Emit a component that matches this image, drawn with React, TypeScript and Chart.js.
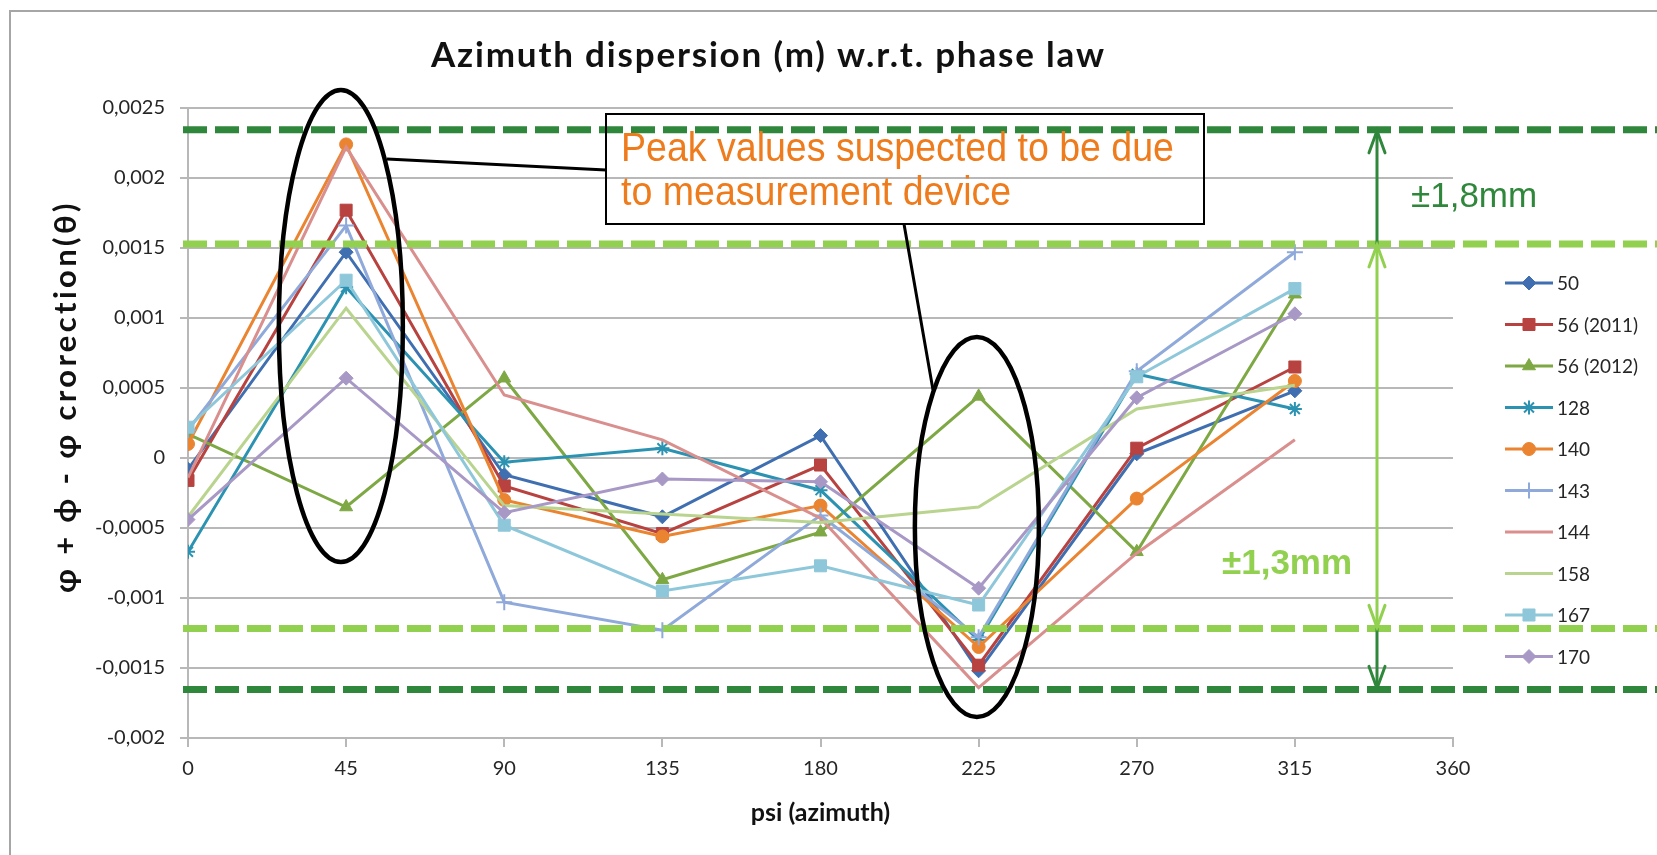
import React, { useEffect, useRef } from 'react';
import { Chart, registerables } from 'chart.js';
import { drawPoint } from 'chart.js/helpers';

Chart.register(...registerables);

// ---------- data ----------
const azimuths = [0, 45, 90, 135, 180, 225, 270, 315];
const seriesNames = ['50', '56 (2011)', '56 (2012)', '128', '140', '143', '144', '158', '167', '170'];
const s50 = [-0.00008, 0.00147, -0.00012, -0.00042, 0.00016, -0.00152, 0.00003, 0.00048];
const s56_2011 = [-0.00016, 0.00177, -0.0002, -0.00054, -0.00005, -0.00148, 0.00007, 0.00065];
const s56_2012 = [0.00017, -0.00035, 0.00057, -0.00087, -0.00053, 0.00044, -0.00067, 0.00117];
const s128 = [-0.00067, 0.00122, -0.00003, 0.00007, -0.00023, -0.0013, 0.0006, 0.00035];
const s140 = [0.0001, 0.00224, -0.0003, -0.00056, -0.00034, -0.00135, -0.00029, 0.00055];
const s143 = [0.0002, 0.00166, -0.00103, -0.00123, -0.00041, -0.00128, 0.00062, 0.00147];
const s144 = [-0.00014, 0.00222, 0.00045, 0.00013, -0.00043, -0.00164, -0.00068, 0.00013];
const s158 = [-0.00042, 0.00107, -0.00034, -0.0004, -0.00046, -0.00035, 0.00035, 0.00052];
const s167 = [0.00022, 0.00127, -0.00048, -0.00095, -0.00077, -0.00105, 0.00058, 0.00121];
const s170 = [-0.00044, 0.00057, -0.00039, -0.00015, -0.00017, -0.00093, 0.00043, 0.00103];
const seriesValues = [s50, s56_2011, s56_2012, s128, s140, s143, s144, s158, s167, s170];

const yTickMin = -0.002;
const yTickMax = 0.0025;
const yTickStep = 0.0005;
const xTickMin = 0;
const xTickMax = 360;
const xTickStep = 45;

// tolerance bands (value units): [upper, lower]
const outerBand = [0.002344, -0.001653]; // ±1,8mm
const innerBand = [0.001529, -0.001217]; // ±1,3mm

// highlight ellipses: [centre azimuth, centre value]
const peakEllipses = [
  [43.5, 0.000943],
  [224.5, -0.000493],
];

const TITLE = 'Azimuth dispersion (m) w.r.t. phase law';
const Y_TITLE = 'φ + ϕ - φ crorection(θ)';
const X_TITLE = 'psi (azimuth)';
const NOTE_LINES = ['Peak values suspected to be due', 'to measurement device'];
const OUTER_LABEL = '±1,8mm';
const INNER_LABEL = '±1,3mm';

// ---------- style ----------
const FONT = 'Lato, "Open Sans", "DejaVu Sans", sans-serif';
const ARIAL = '"Liberation Sans", Arial, sans-serif';
const NARROW = '"Liberation Sans Narrow", "Liberation Sans", Arial, sans-serif';
const seriesColors = ['#3F6FB0', '#B8423F', '#7EA844', '#2B93B1', '#EB8431', '#8EA9DA', '#D98F8D', '#B9D48E', '#8EC7DA', '#A898C6'];
const seriesMarkers: (string | false)[] = ['rectRot', 'rect', 'triangle', 'star', 'circle', 'cross', false, false, 'rect', 'rectRot'];
const markerRadius = [7, 8.5, 7.5, 7, 6.5, 8, 0, 0, 8.5, 7];
const DARK_GREEN = '#2F873B';
const LIGHT_GREEN = '#92D050';
const GRID = '#B8B8B8';
const ORANGE = '#EE7B1C';
const TEXT = '#262626';

function fmt(v: number) {
  const r = Math.round(v * 1e5) / 1e5;
  return String(r).replace('.', ',');
}

function arrowHead(ctx: CanvasRenderingContext2D, x: number, tipY: number, dir: number) {
  ctx.beginPath();
  ctx.moveTo(x - 8, tipY - dir * 22);
  ctx.lineTo(x, tipY);
  ctx.lineTo(x + 8, tipY - dir * 22);
  ctx.stroke();
}

const overlayPlugin = {
  id: 'overlay',
  beforeDraw(chart: any) {
    const ctx = chart.ctx as CanvasRenderingContext2D;
    ctx.save();
    ctx.fillStyle = '#ffffff';
    ctx.fillRect(0, 0, chart.width, chart.height);
    ctx.strokeStyle = '#A6A6A6';
    ctx.lineWidth = 2;
    ctx.beginPath();
    ctx.moveTo(10, chart.height);
    ctx.lineTo(10, 11);
    ctx.lineTo(chart.width, 11);
    ctx.stroke();
    ctx.restore();
  },
  afterDraw(chart: any) {
    const ctx = chart.ctx as CanvasRenderingContext2D;
    const xs = chart.scales.x;
    const ys = chart.scales.y;
    const W = chart.width;

    // title
    ctx.save();
    ctx.fillStyle = '#111';
    ctx.font = `bold 35px ${FONT}`;
    const w0 = ctx.measureText(TITLE).width;
    (ctx as any).letterSpacing = `${(673 - w0) / (TITLE.length - 1)}px`;
    ctx.textAlign = 'left';
    ctx.textBaseline = 'alphabetic';
    ctx.fillText(TITLE, 431, 67);
    ctx.restore();

    // y title
    ctx.save();
    ctx.fillStyle = '#111';
    ctx.font = `bold 31px ${FONT}`;
    const wy = ctx.measureText(Y_TITLE).width;
    (ctx as any).letterSpacing = `${Math.max(0, (390 - wy) / (Y_TITLE.length - 1))}px`;
    ctx.translate(76, 593);
    ctx.rotate(-Math.PI / 2);
    ctx.textAlign = 'left';
    ctx.textBaseline = 'alphabetic';
    ctx.fillText(Y_TITLE, 0, 0);
    ctx.restore();

    // tolerance dashed lines
    ctx.save();
    ctx.lineWidth = 7;
    ctx.setLineDash([24, 8]);
    const bandLines: [number, string][] = [
      [outerBand[0], DARK_GREEN],
      [innerBand[0], LIGHT_GREEN],
      [innerBand[1], LIGHT_GREEN],
      [outerBand[1], DARK_GREEN],
    ];
    bandLines.forEach(([v, c]) => {
      const py = ys.getPixelForValue(v);
      ctx.strokeStyle = c;
      ctx.beginPath();
      ctx.moveTo(183, py);
      ctx.lineTo(W, py);
      ctx.stroke();
    });
    ctx.restore();

    // ellipses
    const ellipseRadii = [
      [62, 236],
      [62, 190],
    ];
    ctx.save();
    ctx.strokeStyle = '#000';
    ctx.lineWidth = 4.5;
    peakEllipses.forEach(([a, v], i) => {
      ctx.beginPath();
      ctx.ellipse(xs.getPixelForValue(a), ys.getPixelForValue(v), ellipseRadii[i][0], ellipseRadii[i][1], 0, 0, Math.PI * 2);
      ctx.stroke();
    });
    // connectors
    ctx.lineWidth = 3;
    ctx.beginPath();
    ctx.moveTo(387, 159);
    ctx.lineTo(606, 170);
    ctx.moveTo(904, 224);
    ctx.lineTo(933, 390);
    ctx.stroke();
    // note box
    ctx.lineWidth = 2;
    ctx.strokeRect(606, 114, 598, 110);
    ctx.fillStyle = ORANGE;
    ctx.font = `40px ${NARROW}`;
    ctx.textAlign = 'left';
    ctx.textBaseline = 'alphabetic';
    const noteW = 553;
    ctx.fillText(NOTE_LINES[0], 621, 161, noteW);
    const w1 = ctx.measureText(NOTE_LINES[0]).width;
    const w2 = ctx.measureText(NOTE_LINES[1]).width;
    const squeeze = Math.min(1, noteW / w1);
    ctx.fillText(NOTE_LINES[1], 621, 205, w2 * squeeze);
    ctx.restore();

    // arrows
    const ax = 1377;
    const yo0 = ys.getPixelForValue(outerBand[0]);
    const yi0 = ys.getPixelForValue(innerBand[0]);
    const yi1 = ys.getPixelForValue(innerBand[1]);
    const yo1 = ys.getPixelForValue(outerBand[1]);
    ctx.save();
    ctx.lineWidth = 3;
    ctx.lineCap = 'round';
    ctx.strokeStyle = DARK_GREEN;
    ctx.beginPath();
    ctx.moveTo(ax, yi0);
    ctx.lineTo(ax, yo0 + 1);
    ctx.stroke();
    arrowHead(ctx, ax, yo0 + 1, -1);
    ctx.beginPath();
    ctx.moveTo(ax, yi1);
    ctx.lineTo(ax, yo1 - 1);
    ctx.stroke();
    arrowHead(ctx, ax, yo1 - 1, 1);
    ctx.strokeStyle = LIGHT_GREEN;
    ctx.beginPath();
    ctx.moveTo(ax, yi0 + 1);
    ctx.lineTo(ax, yi1 - 1);
    ctx.stroke();
    arrowHead(ctx, ax, yi0 + 1, -1);
    arrowHead(ctx, ax, yi1 - 1, 1);

    ctx.fillStyle = DARK_GREEN;
    ctx.font = `35px ${ARIAL}`;
    ctx.textAlign = 'left';
    ctx.fillText(OUTER_LABEL, 1411, 207);
    ctx.fillStyle = LIGHT_GREEN;
    ctx.font = `bold 35px ${ARIAL}`;
    ctx.fillText(INNER_LABEL, 1222, 574);
    ctx.restore();

    // legend
    ctx.save();
    const lx0 = 1505;
    const lx1 = 1553;
    const ly0 = 283;
    const lstep = 41.5;
    chart.data.datasets.forEach((ds: any, i: number) => {
      const yy = ly0 + i * lstep;
      ctx.strokeStyle = ds.borderColor;
      ctx.fillStyle = ds.borderColor;
      ctx.lineWidth = 3;
      ctx.beginPath();
      ctx.moveTo(lx0, yy);
      ctx.lineTo(lx1, yy);
      ctx.stroke();
      if (ds.pointStyle) {
        ctx.lineWidth = ds.pointBorderWidth;
        drawPoint(ctx, { pointStyle: ds.pointStyle, rotation: 0, radius: ds.pointRadius, borderWidth: ds.pointBorderWidth } as any, (lx0 + lx1) / 2, yy);
      }
      ctx.fillStyle = TEXT;
      ctx.font = `19px ${FONT}`;
      ctx.textAlign = 'left';
      ctx.textBaseline = 'middle';
      ctx.fillText(ds.label, 1557, yy + 1);
    });
    ctx.restore();
  },
};

export default function App() {
  const ref = useRef<HTMLCanvasElement | null>(null);

  useEffect(() => {
    if (!ref.current) return;
    const datasets = seriesNames.map((name, i) => {
      const m = seriesMarkers[i];
      return {
        label: name,
        data: azimuths.map((a, j) => ({ x: a, y: seriesValues[i][j] })),
        borderColor: seriesColors[i],
        backgroundColor: seriesColors[i],
        borderWidth: 3,
        pointStyle: m || false,
        pointRadius: m ? markerRadius[i] : 0,
        pointHoverRadius: m ? markerRadius[i] : 0,
        pointBackgroundColor: seriesColors[i],
        pointBorderColor: seriesColors[i],
        pointBorderWidth: m === 'star' || m === 'cross' ? 2 : 1,
        tension: 0,
        order: seriesNames.length - i,
      };
    });

    const chart = new Chart(ref.current, {
      type: 'line',
      data: { datasets } as any,
      plugins: [overlayPlugin as any],
      options: {
        animation: false,
        responsive: true,
        maintainAspectRatio: false,
        layout: { padding: { top: 108, right: 204, left: 0, bottom: 0 } },
        plugins: {
          legend: { display: false },
          title: { display: false },
          tooltip: { enabled: false },
        },
        scales: {
          x: {
            type: 'linear',
            min: xTickMin,
            max: xTickMax,
            ticks: {
              stepSize: xTickStep,
              font: { family: FONT, size: 20 },
              color: TEXT,
              padding: 10,
              maxRotation: 0,
              autoSkip: false,
            },
            grid: { drawOnChartArea: false, tickLength: 9, color: GRID, lineWidth: 2 },
            border: { color: GRID, width: 2 },
            title: {
              display: true,
              text: X_TITLE,
              font: { family: FONT, size: 25, weight: 'bold' },
              color: '#111',
              padding: { top: 0, bottom: 27 },
            },
            afterFit: (s: any) => {
              s.height = 117;
            },
          },
          y: {
            type: 'linear',
            min: yTickMin,
            max: yTickMax,
            ticks: {
              stepSize: yTickStep,
              callback: (v: any) => fmt(Number(v)),
              font: { family: FONT, size: 20 },
              color: TEXT,
              padding: 15,
            },
            grid: { color: GRID, lineWidth: 2, tickLength: 8 },
            border: { color: GRID, width: 2 },
            afterFit: (s: any) => {
              s.width = 188;
            },
          },
        } as any,
      },
    });
    return () => chart.destroy();
  }, []);

  return (
    <div style={{ position: 'absolute', left: 0, top: 0, width: 1657, height: 855, background: '#fff' }}>
      <canvas ref={ref} />
    </div>
  );
}
